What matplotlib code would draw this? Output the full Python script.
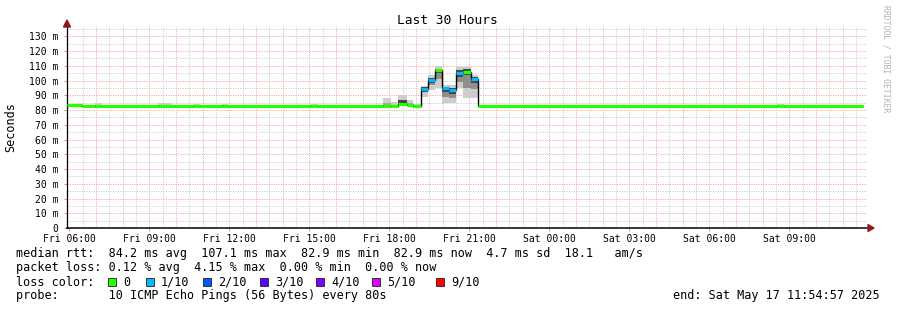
import numpy as np
import matplotlib
matplotlib.use("Agg")
import matplotlib.pyplot as plt
from matplotlib.patches import Polygon, Rectangle

W, H = 897, 310
MONO = "DejaVu Sans Mono"

# ================= data (hours since Fri 05:54:57) =================
seg_start = [0.00, 0.55, 1.05, 1.31, 3.41, 3.94, 4.72, 4.99, 5.81, 6.04, 9.10, 9.40,
             11.85, 12.15, 12.41, 12.75, 12.98, 13.26, 13.53, 13.80, 14.05, 14.33,
             14.58, 14.84, 15.15, 15.40, 26.63, 26.90]
seg_end = seg_start[1:] + [29.85]
median = [83.1, 82.9, 82.9, 82.9, 82.9, 82.9, 82.9, 82.9, 82.9, 82.9, 82.9, 82.9,
          82.9, 82.9, 84.0, 83.3, 82.9, 94.1, 100.6, 107.4, 94.9, 93.6,
          105.0, 106.0, 101.0, 82.9, 82.9, 82.9]
loss = [0, 0, 0, 0, 0, 0, 0, 0, 0, 0, 0, 0,
        0, 0, 0, 0, 0, 1, 1, 0, 1, 1,
        1, 0, 1, 0, 0, 0]
smoke_min = [82.9, 82.9, 82.9, 82.9, 82.9, 82.9, 82.9, 82.9, 82.9, 82.9, 82.9, 82.9,
             82.6, 82.8, 83.0, 82.8, 82.9, 89.0, 93.8, 95.0, 85.0, 85.0,
             95.0, 88.0, 88.0, 82.9, 82.9, 82.9]
smoke_lo = [82.9, 82.9, 82.9, 82.9, 82.9, 82.9, 82.9, 82.9, 82.9, 82.9, 82.9, 82.9,
            82.9, 82.9, 83.5, 83.0, 82.9, 92.0, 97.0, 101.0, 89.0, 88.0,
            99.0, 95.0, 94.0, 82.9, 82.9, 82.9]
smoke_hi = [83.1, 82.9, 82.9, 82.9, 82.9, 82.9, 82.9, 82.9, 82.9, 82.9, 82.9, 82.9,
            85.0, 83.5, 87.0, 84.5, 82.9, 95.5, 102.0, 108.0, 95.5, 95.0,
            107.0, 107.5, 102.5, 82.9, 82.9, 82.9]
smoke_max = [83.8, 82.9, 84.6, 82.9, 84.6, 82.9, 84.3, 82.9, 84.3, 82.9, 84.0, 82.9,
             88.5, 85.5, 90.0, 86.5, 84.0, 96.5, 104.0, 110.0, 97.0, 97.0,
             109.5, 109.0, 104.0, 82.9, 84.2, 82.9]

loss_colors = ["#26ff00", "#00b8ff", "#0059ff", "#5e00ff", "#7e00ff", "#dd00ff", "#ff0000"]
loss_labels = ["0", "1/10", "2/10", "3/10", "4/10", "5/10", "9/10"]

hour_labels = ["Fri 06:00", "Fri 09:00", "Fri 12:00", "Fri 15:00", "Fri 18:00",
               "Fri 21:00", "Sat 00:00", "Sat 03:00", "Sat 06:00", "Sat 09:00"]
first_hour = 5.05 / 60.0   # Fri 06:00 offset from graph start
y_labels = ["0"] + ["%d m" % v for v in range(10, 140, 10)]

legend_rows = [
    "median rtt:  84.2 ms avg  107.1 ms max  82.9 ms min  82.9 ms now  4.7 ms sd  18.1   am/s",
    "packet loss: 0.12 % avg  4.15 % max  0.00 % min  0.00 % now",
    "loss color:",
    "probe:       10 ICMP Echo Pings (56 Bytes) every 80s",
]
end_text = "end: Sat May 17 11:54:57 2025"


def fx(x):
    return x / W


def fy(y):
    return 1 - y / H


# ================= figure =================
fig = plt.figure(figsize=(W / 100, H / 100), dpi=100)
fig.patch.set_facecolor("white")
ax = fig.add_axes([fx(67), fy(228), 800 / W, 202 / H])
ax.set_xlim(0, 30)
ax.set_ylim(0, 137)

# grid
grid_kw = dict(linewidth=0.72, linestyle=(0, (1, 1.4)), zorder=0)
for h in np.arange(first_hour + 0.5, 30, 1.0):
    ax.axvline(h, color="#c8c8c8", **grid_kw)
for h in np.arange(first_hour + 1.0, 30, 1.0):
    ax.axvline(h, color="#ff9a9a", **grid_kw)
for v in range(5, 140, 10):
    ax.axhline(v, color="#c8c8c8", **grid_kw)
for v in range(10, 140, 10):
    ax.axhline(v, color="#ff9a9a", **grid_kw)

# smoke
for i in range(len(seg_start)):
    xs = [seg_start[i], seg_end[i]]
    ax.fill_between(xs, smoke_min[i], smoke_max[i], color="#cdcdcd", linewidth=0, zorder=1)
    if smoke_hi[i] - smoke_lo[i] > 3:
        ax.fill_between(xs, smoke_lo[i], smoke_hi[i], color="#8e8e8e", linewidth=0, zorder=2)
        mid_lo = max(smoke_lo[i], median[i] - 2.5)
        mid_hi = min(smoke_hi[i], median[i] + 2.5)
        ax.fill_between(xs, mid_lo, mid_hi, color="#454545", linewidth=0, zorder=3)
    elif smoke_hi[i] > smoke_lo[i]:
        ax.fill_between(xs, smoke_lo[i], smoke_hi[i], color="#a8a8a8", linewidth=0, zorder=2)

# median: black steps, then loss coloured segments
edges = list(seg_start) + [seg_end[-1]]
ax.stairs(median, edges, baseline=None, color="black", linewidth=1.0, zorder=4)
for i in range(len(seg_start)):
    ax.hlines(median[i], seg_start[i], seg_end[i], color=loss_colors[loss[i]],
              linewidth=2.3, zorder=5)

# axes
for s in ["top", "right"]:
    ax.spines[s].set_visible(False)
ax.spines["left"].set_linewidth(0.9)
ax.spines["bottom"].set_linewidth(1.1)
ax.set_xticks([first_hour + 3 * k for k in range(len(hour_labels))])
ax.set_xticklabels(hour_labels, fontsize=7, family=MONO)
ax.set_yticks(range(0, 140, 10))
ax.set_yticklabels(y_labels, fontsize=7, family=MONO)
ax.tick_params(axis="both", length=2, width=0.7, color="#ff8080", pad=2)
ax.tick_params(axis="y", pad=4)
fig.text(fx(11), fy(127), "Seconds", rotation=90, ha="center", va="center",
         fontsize=8.5, family=MONO)

# arrows
arrow_c = "#8b1a1a"
fig.patches.append(Polygon([(fx(63.5), fy(27)), (fx(70.5), fy(27)), (fx(67), fy(20))],
                           closed=True, color=arrow_c, transform=fig.transFigure))
fig.patches.append(Polygon([(fx(868), fy(224.5)), (fx(868), fy(231.5)), (fx(874), fy(228))],
                           closed=True, color=arrow_c, transform=fig.transFigure))

# title & watermark
fig.text(fx(447), fy(20), "Last 30 Hours", ha="center", va="center", fontsize=9.3, family=MONO)
fig.text(fx(886), fy(59), "RRDTOOL / TOBI OETIKER", rotation=270, ha="center", va="center",
         fontsize=5.9, family=MONO, color="#b4b4b4")

# legend
row_y = [253.5, 268, 282, 296]
for txt, y in zip(legend_rows, row_y):
    fig.text(fx(16), fy(y), txt, ha="left", va="center", fontsize=8.5, family=MONO)
sq_x = [108, 146, 203, 260, 316, 372, 436]
for c, lab, x in zip(loss_colors, loss_labels, sq_x):
    fig.patches.append(Rectangle((fx(x), fy(286)), 7.5 / W, 8 / H, facecolor=c,
                                 edgecolor="#202020", linewidth=0.6, transform=fig.transFigure))
    fig.text(fx(x + 15), fy(282), lab, ha="left", va="center", fontsize=8.5, family=MONO)
fig.text(fx(880), fy(296), end_text, ha="right", va="center", fontsize=8.5, family=MONO)

fig.savefig("out.png", dpi=100)
